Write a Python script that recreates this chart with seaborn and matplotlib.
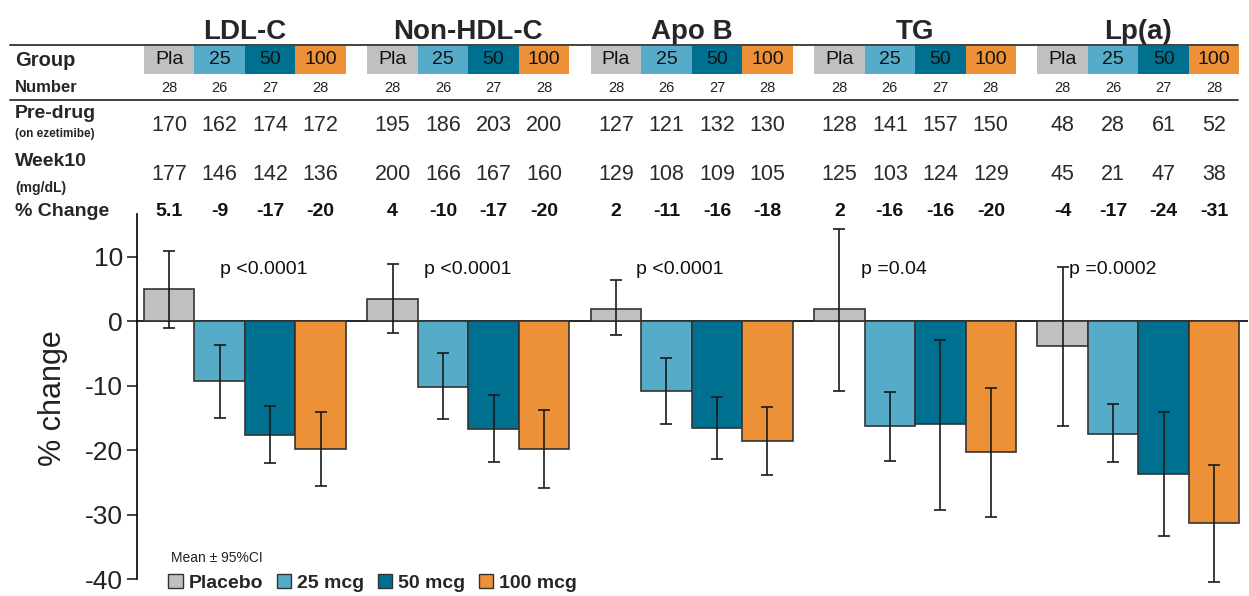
import matplotlib
matplotlib.use("Agg")
import matplotlib.pyplot as plt
import matplotlib.transforms as mtransforms
from matplotlib.patches import Rectangle, Patch
from matplotlib.lines import Line2D
import seaborn as sns
import pandas as pd

# data
lipids = ["LDL-C", "Non-HDL-C", "Apo B", "TG", "Lp(a)"]
groups = ["Placebo", "25 mcg", "50 mcg", "100 mcg"]
group_short = ["Pla", "25", "50", "100"]
n_subjects = [28, 26, 27, 28]
pre_drug = [[170, 162, 174, 172], [195, 186, 203, 200], [127, 121, 132, 130],
            [128, 141, 157, 150], [48, 28, 61, 52]]
week10 = [[177, 146, 142, 136], [200, 166, 167, 160], [129, 108, 109, 105],
          [125, 103, 124, 129], [45, 21, 47, 38]]
pct_label = [["5.1", "-9", "-17", "-20"], ["4", "-10", "-17", "-20"], ["2", "-11", "-16", "-18"],
             ["2", "-16", "-16", "-20"], ["-4", "-17", "-24", "-31"]]
mean_change = [[5.0, -9.3, -17.7, -19.8], [3.4, -10.2, -16.7, -19.8], [1.9, -10.8, -16.5, -18.5],
               [1.9, -16.2, -15.9, -20.2], [-3.8, -17.4, -23.7, -31.3]]
ci_low = [[-1.0, -15.0, -22.0, -25.5], [-1.8, -15.2, -21.8, -25.9], [-2.2, -16.0, -21.3, -23.8],
          [-10.8, -21.6, -29.2, -30.4], [-16.2, -21.8, -33.3, -40.4]]
ci_high = [[10.8, -3.7, -13.1, -14.1], [8.8, -5.0, -11.4, -13.7], [6.3, -5.7, -11.7, -13.3],
           [14.3, -11.0, -2.9, -10.3], [8.4, -12.9, -14.1, -22.3]]
p_values = ["p <0.0001", "p <0.0001", "p <0.0001", "p =0.04", "p =0.0002"]

colors = ["#C0C0C0", "#56ACC8", "#007091", "#EC9138"]

# layout helpers (pixels of a 1249x596 canvas)
W, H = 1249, 596
p_offset = [-0.11, -0.20, -0.25, -0.24, -0.31]


def fy(px):
    return 1 - px / H


def fx(px):
    return px / W


rows = []
for i, lip in enumerate(lipids):
    for k, g in enumerate(groups):
        rows.append({"lipid": lip, "group": g, "mean": mean_change[i][k]})
df = pd.DataFrame(rows)

sns.set_style("white")
plt.rcParams["font.family"] = ["Liberation Sans", "DejaVu Sans"]
plt.rcParams["axes.unicode_minus"] = False

fig = plt.figure(figsize=(W / 100, H / 100), dpi=100)
ax = fig.add_axes([fx(137), fy(582), fx(W - 137) - 0.0005, fy(214) - fy(582)])

sns.barplot(data=df, x="lipid", y="mean", hue="group", order=lipids, hue_order=groups,
            palette=colors, width=0.904, errorbar=None, edgecolor="#333333",
            linewidth=1.2, legend=False, saturation=1, ax=ax, zorder=2)

# bar centres from the seaborn bars
centres = []
bar_w = 0
for k, cont in enumerate(ax.containers):
    xs = []
    for bar in cont:
        xs.append(bar.get_x() + bar.get_width() / 2)
        bar_w = bar.get_width()
    centres.append(xs)

for k in range(len(groups)):
    m = [mean_change[i][k] for i in range(len(lipids))]
    lo = [m[i] - ci_low[i][k] for i in range(len(lipids))]
    hi = [ci_high[i][k] - m[i] for i in range(len(lipids))]
    ax.errorbar(centres[k], m, yerr=[lo, hi], fmt="none", ecolor="#1a1a1a",
                elinewidth=1.2, capsize=4.5, capthick=1.2, zorder=3)

ax.axhline(0, color="black", lw=1.2, zorder=1.5)
ax.set_xlim(-0.483, 4.492)
ax.set_ylim(-40.4, 16.6)
ax.set_yticks([10, 0, -10, -20, -30, -40])
ax.tick_params(axis="y", labelsize=19, length=7, width=1.2, direction="out", pad=3, left=True,
               labelcolor="#222222")
ax.tick_params(axis="x", bottom=False, labelbottom=False)
ax.set_xlabel("")
ax.set_ylabel("% change", fontsize=22, labelpad=12, color="#222222")
sns.despine(ax=ax, bottom=True)
ax.spines["left"].set_bounds(-40, 16.6)
ax.spines["left"].set_linewidth(1.2)
ax.spines["left"].set_color("black")

for i in range(len(lipids)):
    ax.text(i + p_offset[i], 8, p_values[i], fontsize=14, ha="left", va="center", color="#111111")

# table above the plot
tr = mtransforms.blended_transform_factory(ax.transData, fig.transFigure)

for i, lip in enumerate(lipids):
    ax.text(i, fy(32), lip, transform=tr, fontsize=20, fontweight="bold",
            ha="center", va="center", clip_on=False)
    for k in range(len(groups)):
        x = centres[k][i]
        ax.add_patch(Rectangle((x - bar_w / 2, fy(74)), bar_w, fy(46) - fy(74), transform=tr,
                               facecolor=colors[k], edgecolor="none", clip_on=False))
        ax.text(x, fy(60), group_short[k], transform=tr, fontsize=14, ha="center",
                va="center", color="#111111", clip_on=False)
        ax.text(x, fy(88), str(n_subjects[k]), transform=tr, fontsize=10.5, ha="center",
                va="center", color="#222222", clip_on=False)
        ax.text(x, fy(125), str(pre_drug[i][k]), transform=tr, fontsize=15.5, ha="center",
                va="center", color="#2a2a2a", clip_on=False)
        ax.text(x, fy(174), str(week10[i][k]), transform=tr, fontsize=15.5, ha="center",
                va="center", color="#2a2a2a", clip_on=False)
        ax.text(x, fy(211), pct_label[i][k], transform=tr, fontsize=14, fontweight="bold",
                ha="center", va="center", color="#111111", clip_on=False)

# row labels
fig.text(fx(15), fy(60), "Group", fontsize=14.5, fontweight="bold", va="center")
fig.text(fx(15), fy(88), "Number", fontsize=12, fontweight="bold", va="center")
fig.text(fx(15), fy(114), "Pre-drug", fontsize=14, fontweight="bold", va="center")
fig.text(fx(15), fy(134), "(on ezetimibe)", fontsize=8.5, fontweight="bold", va="center")
fig.text(fx(15), fy(161), "Week10", fontsize=14, fontweight="bold", va="center")
fig.text(fx(15), fy(188), "(mg/dL)", fontsize=10, fontweight="bold", va="center")
fig.text(fx(15), fy(211), "% Change", fontsize=14, fontweight="bold", va="center")

for ypx in [45, 100]:
    fig.add_artist(Line2D([fx(10), fx(1238)], [fy(ypx), fy(ypx)], color="#333333", lw=1.3))

# legend
fig.text(fx(171), fy(558), "Mean \u00b1 95%CI", fontsize=10, va="center", color="#222222")
handles = [Patch(facecolor=c, edgecolor="#333333", linewidth=1.0) for c in colors]
fig.legend(handles, groups, loc="center left", bbox_to_anchor=(fx(168), fy(583)),
           bbox_transform=fig.transFigure, ncol=4, frameon=False,
           prop={"weight": "bold", "size": 14}, handlelength=0.75, handleheight=0.75,
           handletextpad=0.3, columnspacing=0.7, borderpad=0, borderaxespad=0)

fig.savefig("out.png", dpi=100)
